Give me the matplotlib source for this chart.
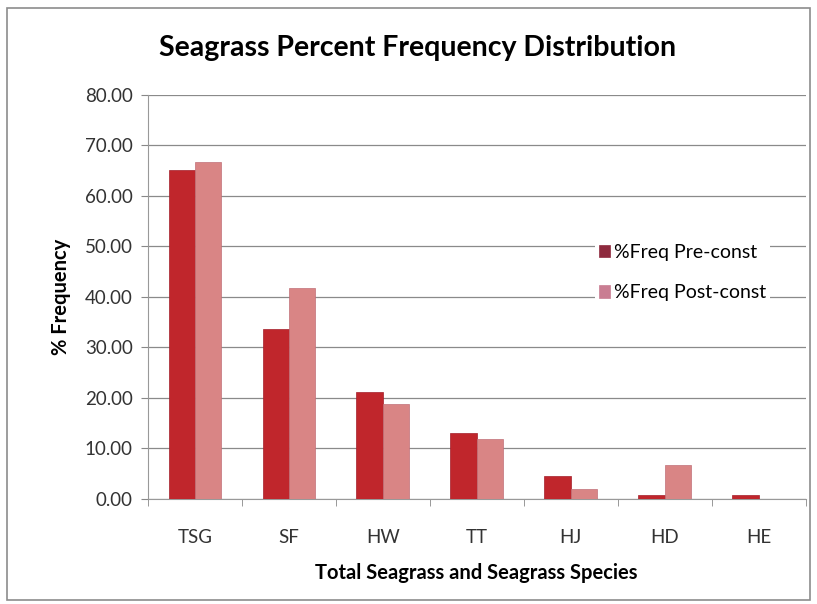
import numpy as np
import matplotlib.pyplot as plt
from matplotlib.patches import Rectangle

species = ['TSG', 'SF', 'HW', 'TT', 'HJ', 'HD', 'HE']
freq_pre = [65.1, 33.7, 21.2, 13.0, 4.5, 0.8, 0.7]
freq_post = [66.7, 41.8, 18.8, 11.8, 1.9, 6.7, 0.0]
yticks = [0, 10, 20, 30, 40, 50, 60, 70, 80]

plt.rcParams['font.family'] = ['Lato', 'DejaVu Sans']

fig = plt.figure(figsize=(8.17, 6.04), dpi=100)
ax = fig.add_axes([0.181, 0.174, 0.805, 0.669])

# outer chart frame
fig.patches.append(Rectangle((0.009, 0.007), 0.983, 0.980, transform=fig.transFigure,
                             fill=False, edgecolor='#8c8c8c', linewidth=1.2))

x = np.arange(len(species))
w = 0.28
ax.bar(x - w / 2, freq_pre, w, color='#c0262c', edgecolor='#a31f2a', linewidth=0.5,
       label='%Freq Pre-const', zorder=3)
ax.bar(x + w / 2, freq_post, w, color='#d98585', edgecolor='#c07078', linewidth=0.5,
       label='%Freq Post-const', zorder=3)

ax.set_xlim(-0.5, len(species) - 0.5)
ax.set_ylim(0, 80)
ax.set_yticks(yticks)
ax.set_yticklabels([f'{v:.2f}' for v in yticks], fontsize=13.5, color='#333333')
ax.set_xticks(x)
ax.set_xticklabels(species, fontsize=13.5, color='#333333')
ax.tick_params(axis='x', length=0, pad=22)
ax.tick_params(axis='y', length=5, color='#888888', pad=6)
ax.set_xticks(np.arange(-0.5, len(species)), minor=True)
ax.tick_params(axis='x', which='minor', length=5, color='#888888')

ax.grid(axis='y', color='#8a8a8a', linewidth=0.9, zorder=0)
for s in ['top', 'right']:
    ax.spines[s].set_visible(False)
ax.spines['left'].set_color('#999999')
ax.spines['bottom'].set_color('#999999')

ax.set_title('Seagrass Percent Frequency Distribution', fontsize=20.5, fontweight='bold',
             pad=28, x=0.41)
ax.set_xlabel('Total Seagrass and Seagrass Species', fontsize=14.5, fontweight='bold',
              labelpad=12)
ax.set_ylabel('% Frequency', fontsize=14.5, fontweight='bold', labelpad=10)

leg = ax.legend(loc='center left', bbox_to_anchor=(0.665, 0.56), frameon=True,
                fontsize=14, handlelength=0.55, handleheight=0.6, handletextpad=0.25,
                labelspacing=1.2, borderpad=0.2)
leg.get_frame().set_edgecolor('none')
leg.get_frame().set_facecolor('white')
leg.get_frame().set_alpha(1)
leg.set_zorder(5)
leg.legend_handles[0].set_color('#8e2a3e')
leg.legend_handles[1].set_color('#c97d92')

fig.savefig('out.png', dpi=100)
